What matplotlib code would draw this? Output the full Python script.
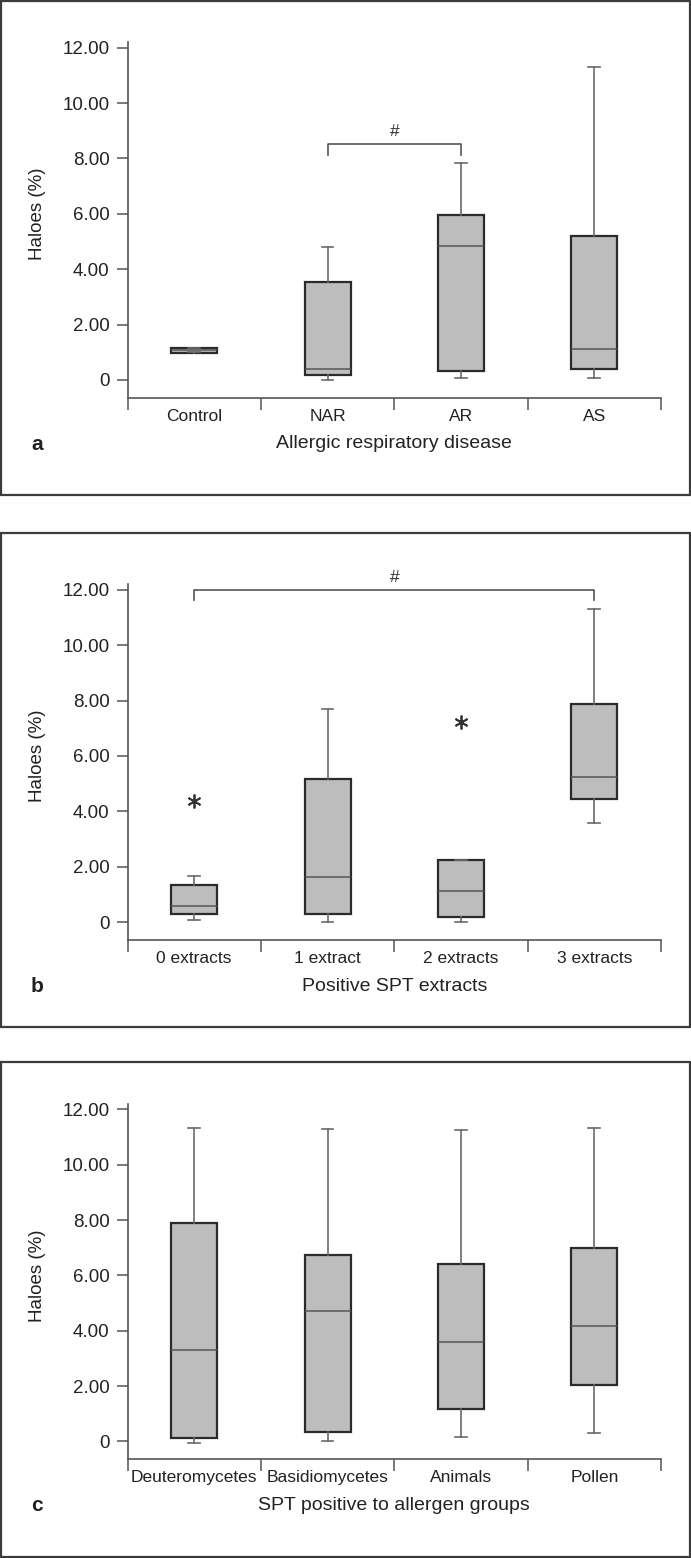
import numpy as np
import matplotlib
matplotlib.use("Agg")
import matplotlib.pyplot as plt
from matplotlib.patches import Rectangle

plt.rcParams['font.family'] = ['Liberation Sans', 'DejaVu Sans']

# ---- data ----
cats_a = ["Control", "NAR", "AR", "AS"]
whislo_a = [1.00, 0.00, 0.06, 0.08]
q1_a = [0.99, 0.17, 0.31, 0.39]
med_a = [1.07, 0.41, 4.85, 1.12]
q3_a = [1.16, 3.55, 5.96, 5.20]
whishi_a = [1.16, 4.81, 7.82, 11.31]
fliers_a = [[], [], [], []]
bracket_a = (1, 2, 8.52, 8.12)   # from cat, to cat, top, foot

cats_b = ["0 extracts", "1 extract", "2 extracts", "3 extracts"]
whislo_b = [0.07, 0.01, 0.01, 3.60]
q1_b = [0.29, 0.30, 0.18, 4.44]
med_b = [0.58, 1.65, 1.14, 5.25]
q3_b = [1.35, 5.16, 2.25, 7.89]
whishi_b = [1.68, 7.70, 2.25, 11.30]
fliers_b = [[4.39], [], [7.24], []]
bracket_b = (0, 3, 12.00, 11.63)

cats_c = ["Deuteromycetes", "Basidiomycetes", "Animals", "Pollen"]
whislo_c = [-0.04, 0.00, 0.17, 0.30]
q1_c = [0.12, 0.34, 1.18, 2.04]
med_c = [3.32, 4.73, 3.61, 4.17]
q3_c = [7.90, 6.74, 6.41, 7.00]
whishi_c = [11.34, 11.28, 11.26, 11.34]
fliers_c = [[], [], [], []]

xlabels = ["Allergic respiratory disease", "Positive SPT extracts", "SPT positive to allergen groups"]
letters = ["a", "b", "c"]
yticks = np.arange(0, 13, 2)
ytick_labels = ["0" if v == 0 else "%.2f" % v for v in yticks]

W, H = 691, 1558
fig = plt.figure(figsize=(W / 100, H / 100), dpi=100)

def fx(px):
    return px / W

def fy(py):
    return 1 - py / H

# pixel layout: y pixel of value 0, px per unit, frame top, frame bottom
layout = [(380.0, 27.69, 1, 495), (922.3, 27.72, 533, 1027), (1441.4, 27.66, 1062, 1557)]
ylo, yhi = -0.64, 12.2
xl, xr = 127.5, 661.0

panels = [
    (cats_a, whislo_a, q1_a, med_a, q3_a, whishi_a, fliers_a, bracket_a),
    (cats_b, whislo_b, q1_b, med_b, q3_b, whishi_b, fliers_b, bracket_b),
    (cats_c, whislo_c, q1_c, med_c, q3_c, whishi_c, fliers_c, None),
]

for i, (cats, wlo, q1, med, q3, whi, fl, br) in enumerate(panels):
    y0, unit, ftop, fbot = layout[i]
    # panel frame
    fig.patches.append(Rectangle((fx(1), fy(fbot)), fx(689), (fbot - ftop) / H,
                                 transform=fig.transFigure, fill=False,
                                 edgecolor="#3c3c3c", linewidth=1.6))
    ptop = y0 - yhi * unit
    pbot = y0 - ylo * unit
    ax = fig.add_axes([fx(xl), fy(pbot), fx(xr - xl), (pbot - ptop) / H])

    stats = []
    for j in range(len(cats)):
        stats.append(dict(whislo=wlo[j], q1=q1[j], med=med[j], q3=q3[j],
                          whishi=whi[j], fliers=fl[j], label=cats[j]))
    ax.bxp(stats, positions=range(len(cats)), widths=0.345, patch_artist=True,
           showfliers=True,
           boxprops=dict(facecolor="#bdbdbd", edgecolor="#2b2b2b", linewidth=1.6),
           medianprops=dict(color="#555555", linewidth=1.1),
           whiskerprops=dict(color="#6a6a6a", linewidth=1.2),
           capprops=dict(color="#6a6a6a", linewidth=1.2),
           capwidths=0.088,
           flierprops=dict(marker=(6, 2, 0), markersize=10, markeredgecolor="#333333",
                           markeredgewidth=1.3, linestyle="none"))

    ax.set_xlim(-0.5, len(cats) - 0.5)
    ax.set_ylim(ylo, yhi)
    for s in ["top", "right"]:
        ax.spines[s].set_visible(False)
    for s in ["left", "bottom"]:
        ax.spines[s].set_color("#555555")
        ax.spines[s].set_linewidth(1.2)

    ax.set_yticks(yticks)
    ax.set_yticklabels(ytick_labels, fontsize=13.5, color="#222222")
    ax.tick_params(axis="y", length=8, width=1.1, color="#555555", pad=5)

    ax.set_xticks(range(len(cats)))
    ax.set_xticklabels(cats, fontsize=12.5, color="#222222")
    ax.set_xticks(np.arange(-0.5, len(cats)), minor=True)
    ax.tick_params(axis="x", which="major", length=0, pad=8)
    ax.tick_params(axis="x", which="minor", length=8.5, width=1.1, color="#555555")

    if br is not None:
        a, b, top, foot = br
        ax.plot([a, a, b, b], [foot, top, top, foot], color="#555555", linewidth=1.2, clip_on=False)
        ax.text((a + b) / 2, top + 0.45, "#", ha="center", va="center", fontsize=12.5, color="#333333")

    # labels
    fig.text(fx(38), fy(y0 - 6 * unit), "Haloes (%)", rotation=90, ha="center", va="center",
             fontsize=13.5, color="#222222")
    fig.text(fx((xl + xr) / 2), fy(y0 + 64), xlabels[i], ha="center", va="center",
             fontsize=14, color="#222222")
    fig.text(fx(37), fy(y0 + 64), letters[i], ha="center", va="center",
             fontsize=15, fontweight="bold", color="#222222")

fig.savefig("out.png", dpi=100)
